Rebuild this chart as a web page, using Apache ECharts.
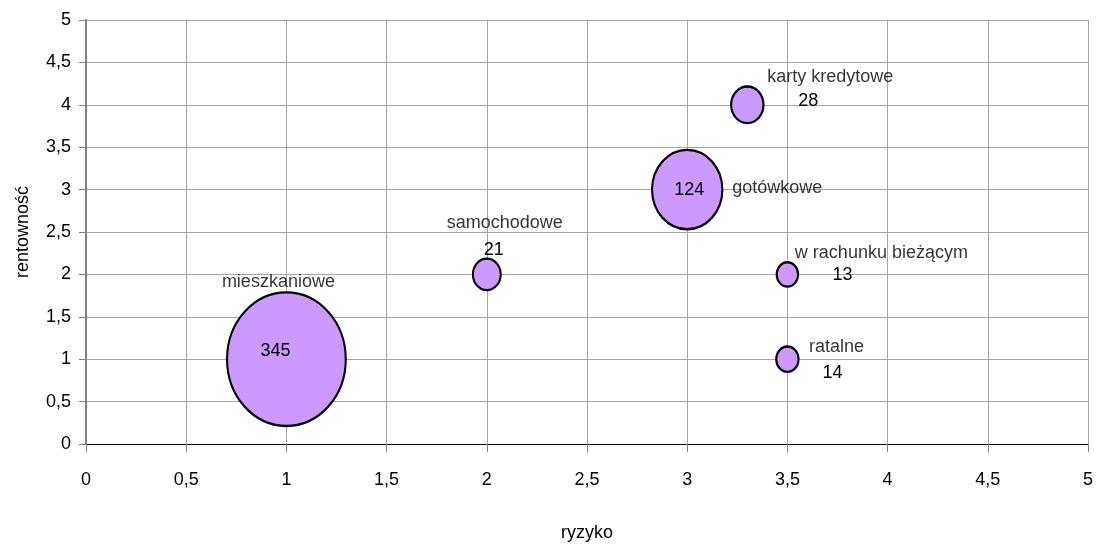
<!DOCTYPE html>
<html><head><meta charset="utf-8">
<script src="https://cdn.jsdelivr.net/npm/echarts@6/dist/echarts.min.js"></script>
<style>html,body{margin:0;padding:0;background:#fff}#c{width:1103px;height:547px}</style>
</head><body><div id="c"></div>
<script>
const names = ['mieszkaniowe','samochodowe','gotówkowe','karty kredytowe','w rachunku bieżącym','ratalne'];
const risk = [1, 2, 3, 3.3, 3.5, 3.5];
const profit = [1, 2, 3, 4, 2, 1];
const volume = [345, 21, 124, 28, 13, 14];
const xTickLabels = ['0','0,5','1','1,5','2','2,5','3','3,5','4','4,5','5'];
const yTickLabels = ['0','0,5','1','1,5','2','2,5','3','3,5','4','4,5','5'];

// label placement (pixels relative to bubble centre)
const nameOffsets = [[-8,-77],[18,-51],[90,-2],[83,-28],[94,-21],[49,-12]];
const valueOffsets = [[-11,-8],[7,-24],[2,0],[61,-4],[55,1],[45,14]];

const FONT = '"Liberation Sans", Arial, sans-serif';
const fs = 18;

const bubbleData = names.map((n,i)=>({name:n, value:[risk[i], profit[i], volume[i]],
  label:{offset: valueOffsets[i]}}));
const nameData = names.map((n,i)=>({name:n, value:[risk[i], profit[i], volume[i]],
  label:{offset: nameOffsets[i]}}));

const chart = echarts.init(document.getElementById('c'), null, {renderer:'canvas'});
chart.setOption({
  animation:false,
  backgroundColor:'#fff',
  grid:{left:86, right:15, top:20, bottom:90, containLabel:false},
  xAxis:{type:'value', min:0, max:5, interval:0.5,
    name:'ryzyko', nameLocation:'middle', nameGap:80,
    nameTextStyle:{color:'#000', fontFamily:FONT, fontSize:fs},
    axisLine:{show:true, onZero:false, lineStyle:{color:'#000', width:1}},
    axisTick:{show:true, length:8, lineStyle:{color:'#808080'}},
    axisLabel:{color:'#000', fontFamily:FONT, fontSize:fs, margin:27,
      formatter:(v)=>xTickLabels[Math.round(v*2)]},
    splitLine:{show:true, lineStyle:{color:'#a6a6a6', width:1}}
  },
  yAxis:{type:'value', min:0, max:5, interval:0.5,
    name:'rentowność', nameLocation:'middle', nameGap:54, nameRotate:90,
    nameTextStyle:{color:'#000', fontFamily:FONT, fontSize:fs},
    axisLine:{show:true, onZero:false, lineStyle:{color:'#808080', width:2}},
    axisTick:{show:true, length:7, lineStyle:{color:'#808080'}},
    axisLabel:{color:'#000', fontFamily:FONT, fontSize:fs, margin:15,
      formatter:(v)=>yTickLabels[Math.round(v*2)]},
    splitLine:{show:true, lineStyle:{color:'#a6a6a6', width:1}}
  },
  series:[
    {type:'scatter', data:bubbleData,
      symbol:'circle',
      symbolSize:(val)=>[6.5*Math.sqrt(val[2])-2, 7.3*Math.sqrt(val[2])-2],
      itemStyle:{color:'#CC99FF', borderColor:'#000', borderWidth:2.2, opacity:1},
      label:{show:true, position:'inside', color:'#000', fontFamily:FONT, fontSize:fs,
        formatter:(p)=>String(p.value[2])},
      emphasis:{disabled:true}, z:3
    },
    {type:'scatter', data:nameData,
      symbol:'circle', symbolSize:1,
      itemStyle:{color:'rgba(0,0,0,0)'},
      label:{show:true, position:'inside', color:'#000', fontFamily:FONT, fontSize:fs,
        formatter:(p)=>p.name},
      emphasis:{disabled:true}, z:4
    }
  ]
});
</script></body></html>
